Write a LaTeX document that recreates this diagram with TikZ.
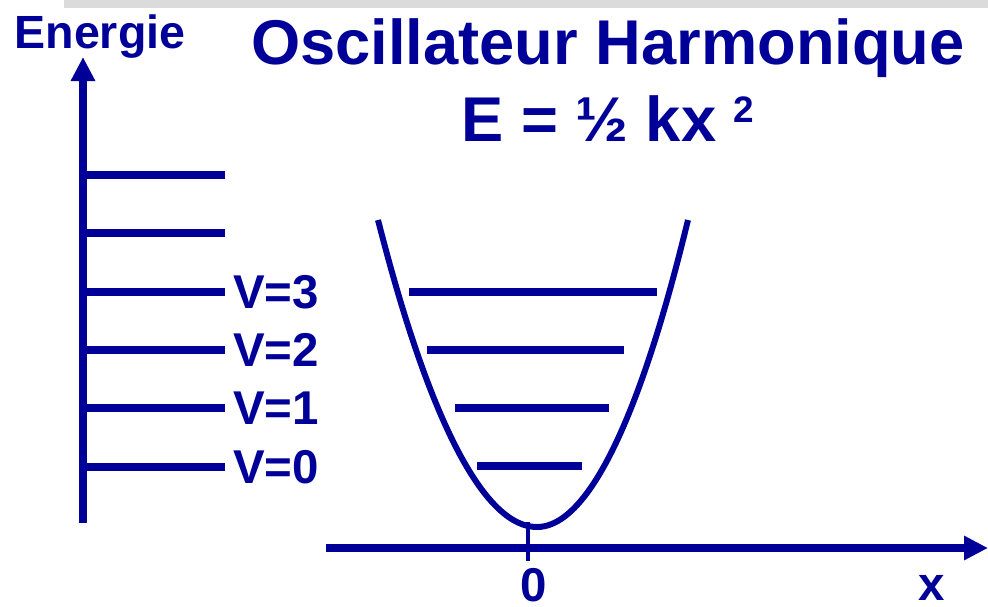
\documentclass[tikz,border=0pt]{standalone}
\usepackage{fontspec}
\setmainfont{Liberation Sans}
\usepackage{tikz}
\usetikzlibrary{arrows.meta}
\definecolor{navy}{RGB}{0,0,153}

\begin{document}
\begin{tikzpicture}[x=0.02cm,y=-0.02cm,
  axis/.style={line width=4.6pt, navy, -{Triangle[length=0.48cm,width=0.46cm]}},
  level/.style={line width=4.6pt, navy},
  lbl/.style={text=navy, inner sep=0pt, font=\fontsize{27}{30}\selectfont\bfseries},
  big/.style={text=navy, inner sep=0pt, font=\fontsize{36}{40}\selectfont\bfseries}]

\useasboundingbox (0,0) rectangle (988,606);
\fill[gray!28] (64,0) rectangle (988,8);

% energy axis
\coordinate (e0) at (83,523);
\coordinate (e1) at (83,57);
\draw[axis] (e0) -- (e1);
\node[lbl, font=\fontsize{26.5}{30}\selectfont\bfseries, anchor=base] (energie) at (100,48) {Energie};

\foreach \y in {175,233,292,350,408,467}
  \draw[level] (83,\y) -- (225,\y);

\node[lbl, anchor=west] (v3) at (233,292) {V=3};
\node[lbl, anchor=west] (v2) at (233,350) {V=2};
\node[lbl, anchor=west] (v1) at (233,408) {V=1};
\node[lbl, anchor=west] (v0) at (233,467) {V=0};

% titre
\node[big, anchor=base] (titre) at (608,64) {Oscillateur Harmonique};
\node[big, anchor=base west] (formule) at (461,141) {E = ½ kx \raisebox{0.38cm}{\fontsize{21}{22}\selectfont\bfseries 2}};

% puits
\draw[navy, line width=3.4pt] (378,220) parabola bend (537,527) (688,220);
\foreach \y/\a/\b in {292/409/657, 350/427/624, 408/455/609, 466/477/582}
  \draw[level] (\a,\y) -- (\b,\y);

% x axis
\coordinate (x0) at (326,548);
\coordinate (x1) at (988,548);
\draw[axis] (x0) -- (x1);
\draw[navy, line width=2pt] (528,522) -- (528,561);

\node[lbl] (zero) at (534,585) {0};
\node[lbl] (xlab) at (932,588) {x};

\end{tikzpicture}
\end{document}
